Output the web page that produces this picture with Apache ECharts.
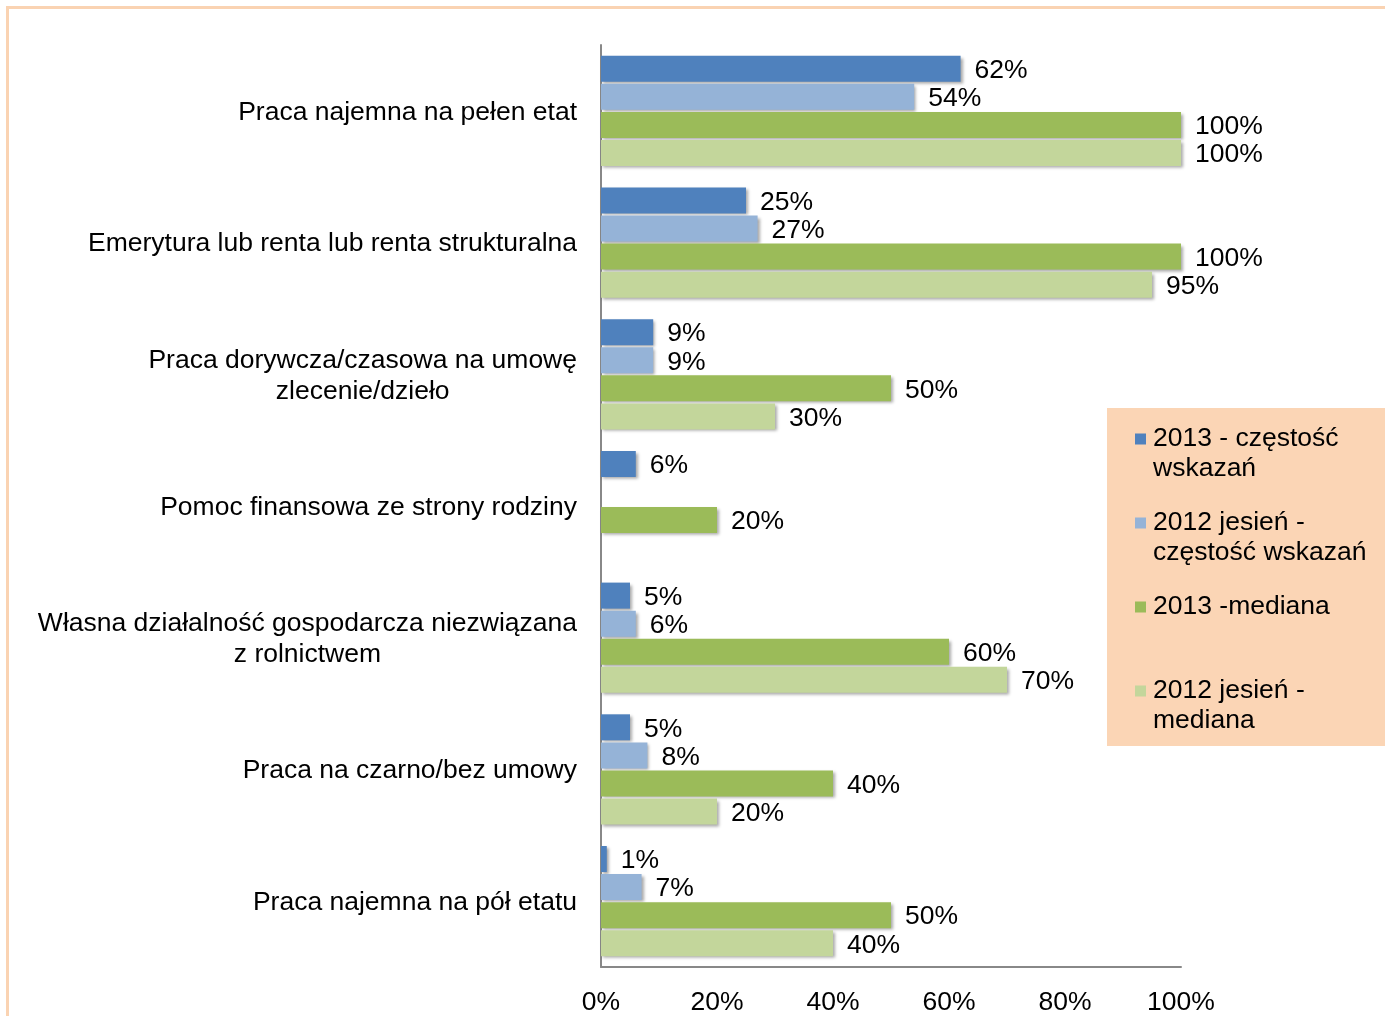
<!DOCTYPE html>
<html>
<head>
<meta charset="utf-8">
<title>Źródła dochodu</title>
<script src="https://cdn.jsdelivr.net/npm/echarts@6/dist/echarts.min.js"></script>
<style>
  html, body { margin: 0; padding: 0; background: #fff; }
  #chart { width: 1385px; height: 1016px; }
</style>
</head>
<body>
<div id="chart"></div>
<script>
// kategorie (od góry)
const categories = [
  "Praca najemna na pełen etat",
  "Emerytura lub renta lub renta strukturalna",
  "Praca dorywcza/czasowa na umowę\nzlecenie/dzieło",
  "Pomoc finansowa ze strony rodziny",
  "Własna działalność gospodarcza niezwiązana\nz rolnictwem",
  "Praca na czarno/bez umowy",
  "Praca najemna na pół etatu"
];
const seriesNames = [
  "2013 - częstość wskazań",
  "2012 jesień - częstość wskazań",
  "2013 -mediana",
  "2012 jesień - mediana"
];
const legendLabels = [
  "2013 - częstość\nwskazań",
  "2012 jesień -\nczęstość wskazań",
  "2013 -mediana\n ",
  "2012 jesień -\nmediana"
];
const freq2013 = [62, 25, 9, 6, 5, 5, 1];
const freq2012 = [54, 27, 9, null, 6, 8, 7];
const median2013 = [100, 100, 50, 20, 60, 40, 50];
const median2012 = [100, 95, 30, null, 70, 20, 40];
const xTicks = [0, 20, 40, 60, 80, 100];

const colors = ["#4F81BD", "#95B3D7", "#9BBB59", "#C3D69B"];
const font = "'Liberation Sans', Arial, sans-serif";
const fs = 26.5;

const chart = echarts.init(document.getElementById("chart"));

function makeSeries(i, data) {
  return {
    name: seriesNames[i],
    type: "bar",
    data: data,
    barWidth: 26,
    barGap: "8%",
    itemStyle: {
      color: colors[i],
      shadowColor: "rgba(0,0,0,0.35)",
      shadowBlur: 3,
      shadowOffsetX: 2,
      shadowOffsetY: 2
    },
    label: {
      show: true,
      position: "right",
      distance: 14,
      offset: [0, 2],
      formatter: (p) => (p.value == null ? "" : p.value + "%"),
      color: "#000",
      fontSize: fs,
      fontFamily: font
    }
  };
}

chart.setOption({
  backgroundColor: "#fff",
  animation: false,
  textStyle: { fontFamily: font },
  graphic: [{
    type: "rect",
    shape: { x: 7.5, y: 7.5, width: 1500, height: 1200 },
    style: { fill: null, stroke: "#FAD3B2", lineWidth: 3 },
    silent: true
  }],
  grid: { left: 601, right: 204, top: 45, bottom: 47 },
  legend: {
    orient: "vertical",
    left: 1107,
    top: 408,
    padding: [16, 20, 10, 28],
    backgroundColor: "#FBD5B5",
    itemGap: 24,
    itemWidth: 11,
    itemHeight: 41,
    icon: "path://M0,0H11V11H0Z M0,40.9H0.1V41H0Z",
    selectedMode: false,
    itemStyle: { borderWidth: 0, shadowBlur: 0, shadowColor: "transparent" },
    formatter: (name) => legendLabels[seriesNames.indexOf(name)],
    textStyle: { fontSize: fs, lineHeight: 30, color: "#000", fontFamily: font, padding: [0, 0, 0, 2] },
    data: seriesNames
  },
  xAxis: {
    type: "value",
    min: xTicks[0],
    max: xTicks[xTicks.length - 1],
    interval: 20,
    axisLine: { show: true, lineStyle: { color: "#888", width: 2 } },
    axisTick: { show: false },
    splitLine: { show: false },
    axisLabel: {
      formatter: "{value}%",
      margin: 22,
      fontSize: fs,
      color: "#000",
      fontFamily: font
    }
  },
  yAxis: {
    type: "category",
    inverse: true,
    data: categories,
    axisLine: { show: true, lineStyle: { color: "#888", width: 2 } },
    axisTick: { show: false },
    axisLabel: {
      margin: 24,
      fontSize: fs,
      lineHeight: 31,
      color: "#000",
      fontFamily: font,
      formatter: (v) => v.split("\n").map((s) => "{c|" + s + "}").join("\n"),
      rich: {
        c: { align: "center", fontSize: fs, lineHeight: 31, color: "#000", fontFamily: font, padding: [3, 0, 0, 0] }
      }
    }
  },
  series: [
    makeSeries(0, freq2013),
    makeSeries(1, freq2012),
    makeSeries(2, median2013),
    makeSeries(3, median2012)
  ]
});
</script>
</body>
</html>
